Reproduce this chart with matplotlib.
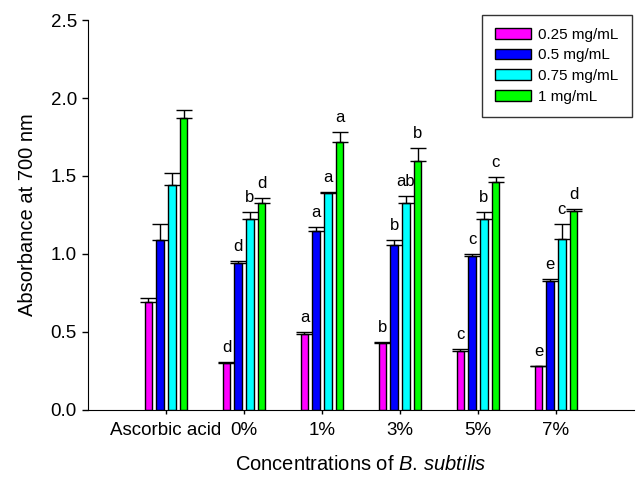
import numpy as np
import matplotlib
matplotlib.use("Agg")
import matplotlib.pyplot as plt

plt.rcParams['font.family'] = ['Liberation Sans', 'DejaVu Sans']
plt.rcParams['mathtext.fontset'] = 'custom'
plt.rcParams['mathtext.rm'] = 'Liberation Sans'
plt.rcParams['mathtext.it'] = 'Liberation Sans:italic'

#------------------------------------------------------------------------------
# DATA
#------------------------------------------------------------------------------
groups = ['Ascorbic acid', '0%', '1%', '3%', '5%', '7%']
series = ['0.25 mg/mL', '0.5 mg/mL', '0.75 mg/mL', '1 mg/mL']

vals_025 = [0.69, 0.30, 0.49, 0.43, 0.38, 0.28]
vals_05 = [1.09, 0.945, 1.15, 1.055, 0.99, 0.825]
vals_075 = [1.44, 1.225, 1.39, 1.33, 1.225, 1.095]
vals_1 = [1.87, 1.33, 1.715, 1.595, 1.46, 1.275]

err_025 = [0.025, 0.008, 0.01, 0.008, 0.01, 0.005]
err_05 = [0.10, 0.01, 0.025, 0.035, 0.012, 0.012]
err_075 = [0.08, 0.045, 0.008, 0.04, 0.045, 0.095]
err_1 = [0.05, 0.03, 0.065, 0.085, 0.035, 0.015]

lab_025 = ['', 'd', 'a', 'b', 'c', 'e']
lab_05 = ['', 'd', 'a', 'b', 'c', 'e']
lab_075 = ['', 'b', 'a', 'ab', 'b', 'c']
lab_1 = ['', 'd', 'a', 'b', 'c', 'd']

colors = ['#ff00ff', '#0000ff', '#00ffff', '#00ff00']

#------------------------------------------------------------------------------
# PLOT
#------------------------------------------------------------------------------
fig = plt.figure(figsize=(6.36, 4.82), dpi=100)
ax = fig.add_axes([0.1384, 0.1494, 0.8585, 0.8091])

x = np.arange(len(groups))
pitch = 0.15
width = 0.096

all_vals = [vals_025, vals_05, vals_075, vals_1]
all_errs = [err_025, err_05, err_075, err_1]
all_labs = [lab_025, lab_05, lab_075, lab_1]

for i in range(4):
    xs = x + (i - 1.5) * pitch
    v = np.array(all_vals[i])
    e = np.array(all_errs[i])
    ax.bar(xs, v, width, color=colors[i], edgecolor='black', linewidth=1,
           label=series[i], zorder=2)
    ax.errorbar(xs, v, yerr=[np.zeros_like(e), e], fmt='none', ecolor='black',
                elinewidth=1, capsize=6, capthick=1, zorder=3)
    for xi, vi, ei, lab in zip(xs, v, e, all_labs[i]):
        if lab:
            ax.annotate(lab, (xi, vi + ei), xytext=(0, 5), textcoords='offset points',
                        ha='center', va='bottom', fontsize=12)

ax.set_xlim(-1, 6)
ax.set_ylim(0, 2.5)
ax.set_yticks([0.0, 0.5, 1.0, 1.5, 2.0, 2.5])
ax.set_yticklabels(['0.0', '0.5', '1.0', '1.5', '2.0', '2.5'])
ax.set_xticks(x)
ax.set_xticklabels(groups)
ax.tick_params(axis='both', labelsize=13.5, direction='out', length=4, width=1)
ax.tick_params(axis='x', length=3, pad=6)
ax.tick_params(axis='y', pad=4)

ax.spines['top'].set_visible(False)
ax.spines['right'].set_visible(False)

ax.set_ylabel('Absorbance at 700 nm', fontsize=14.5, labelpad=10)
ax.set_xlabel('Concentrations of $\\mathit{B.\\,subtilis}$', fontsize=14.5, labelpad=11)

leg = ax.legend(loc='upper right', bbox_to_anchor=(0.9955, 1.013), fontsize=11,
                frameon=True, fancybox=False, edgecolor='black',
                handlelength=2.3, handleheight=0.7, borderpad=0.85,
                labelspacing=0.43, handletextpad=0.5, borderaxespad=0)
leg.get_frame().set_linewidth(1)

plt.savefig('out.png', dpi=100)
